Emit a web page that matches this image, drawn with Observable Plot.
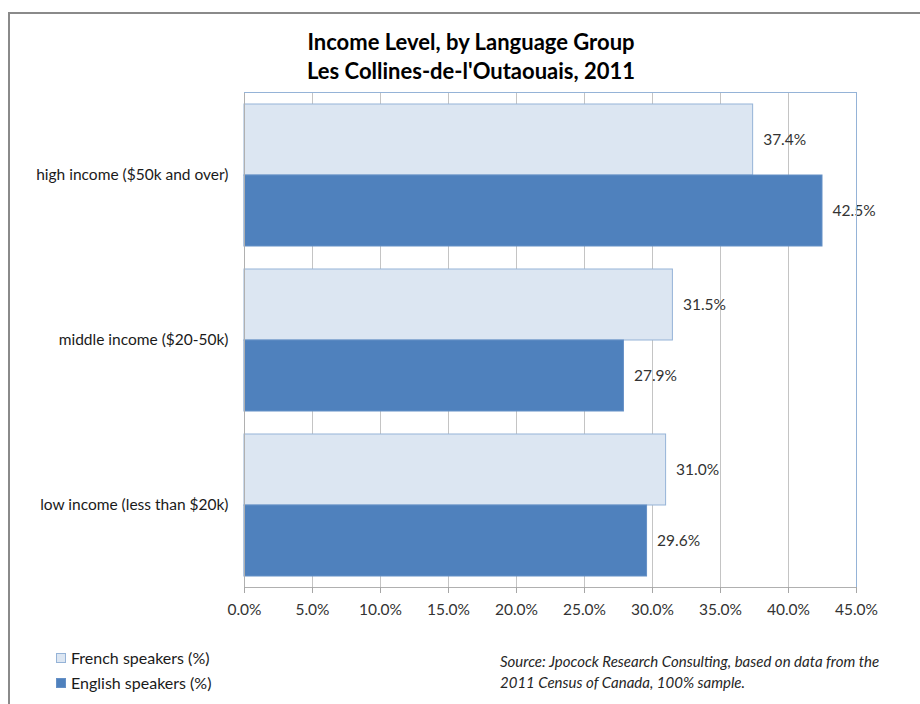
<!DOCTYPE html>
<html>
<head>
<meta charset="utf-8">
<script src="https://cdn.jsdelivr.net/npm/d3@7"></script>
<script src="https://cdn.jsdelivr.net/npm/@observablehq/plot@0.6"></script>
<style>
  html, body { margin: 0; padding: 0; background: #fff; }
  #wrap { position: relative; width: 920px; height: 704px; overflow: hidden; font-family: Lato, "Open Sans", sans-serif; }
  #frame { position: absolute; left: 8px; top: 12px; width: 960px; height: 760px; border-left: 2px solid #8a8a8a; border-top: 2px solid #8a8a8a; }
  #title { position: absolute; left: 0; top: 27px; width: 942px; text-align: center; font-weight: bold; font-size: 22px; line-height: 29px; color: #000; }
  #chart { position: absolute; left: 0; top: 80px; }
  #legend { position: absolute; left: 56px; top: 645px; font-size: 16px; color: #1a1a1a; }
  #legend .row { display: flex; align-items: center; height: 25px; }
  #legend .sw { width: 10px; height: 10px; margin-right: 5px; box-sizing: border-box; }
  #source { position: absolute; left: 500px; top: 651px; font-size: 15px; font-style: italic; line-height: 21px; color: #262626; }
</style>
</head>
<body>
<div id="wrap">
  <div id="frame"></div>
  <div id="title">Income Level, by Language Group<br>Les Collines-de-l'Outaouais, 2011</div>
  <div id="chart"></div>
  <div id="legend"></div>
  <div id="source">Source: Jpocock Research Consulting, based on data from the<br>2011 Census of Canada, 100% sample.</div>
</div>
<script>
const categories = ["high income ($50k and over)", "middle income ($20-50k)", "low income (less than $20k)"];
const series = ["French speakers (%)", "English speakers (%)"];
const french = [37.4, 31.5, 31.0];
const english = [42.5, 27.9, 29.6];
const xTicks = [0, 5, 10, 15, 20, 25, 30, 35, 40, 45];
const fills = ["#dce6f2", "#4f81bd"];
const strokes = ["#95b3d7", "#6590c6"];

const data = [];
categories.forEach((c, i) => {
  data.push({cat: c, lang: series[0], value: french[i]});
  data.push({cat: c, lang: series[1], value: english[i]});
});

const chart = Plot.plot({
  width: 920,
  height: 550,
  marginTop: 11,
  marginBottom: 42,
  marginLeft: 244,
  marginRight: 64,
  style: {fontFamily: "Lato, 'Open Sans', sans-serif", fontSize: "15px", color: "#262626", background: "transparent"},
  x: {domain: [0, 45]},
  y: {domain: series, paddingInner: 0, paddingOuter: 0.15, axis: null},
  fy: {domain: categories, padding: 0},
  color: {domain: series, range: fills},
  marks: [
    Plot.gridX(xTicks, {stroke: "#c4c4c4", strokeOpacity: 1}),
    Plot.barX(data, {x: "value", y: "lang", fy: "cat", fill: "lang", stroke: d => strokes[series.indexOf(d.lang)], strokeWidth: 1}),
    Plot.text(data, {x: "value", y: "lang", fy: "cat", text: d => d.value.toFixed(1) + "%", dx: 10, textAnchor: "start", fontSize: 15.5, fill: "#333"}),
    Plot.frame({anchor: "left", stroke: "#b0b0b0"}),
    Plot.frame({anchor: "right", stroke: "#95b3d7"}),
    Plot.frame({anchor: "top", stroke: "#95b3d7", facetAnchor: "top"}),
    Plot.frame({anchor: "bottom", stroke: "#b0b0b0", facetAnchor: "bottom"}),
    Plot.axisX({ticks: xTicks, tickFormat: d => d.toFixed(1) + "%", tickSize: 6, tickPadding: 10, stroke: "#a6a6a6", fill: "#333", fontSize: 15.5, label: null}),
    Plot.axisFy({anchor: "left", tickSize: 0, tickPadding: 16, label: null, fontSize: 15.5, fill: "#1a1a1a"})
  ]
});
document.getElementById("chart").appendChild(chart);

const legend = document.getElementById("legend");
series.forEach((s, i) => {
  const row = document.createElement("div");
  row.className = "row";
  const sw = document.createElement("div");
  sw.className = "sw";
  sw.style.background = fills[i];
  sw.style.border = "1px solid " + strokes[i];
  const t = document.createElement("span");
  t.textContent = s;
  row.appendChild(sw);
  row.appendChild(t);
  legend.appendChild(row);
});
</script>
</body>
</html>
